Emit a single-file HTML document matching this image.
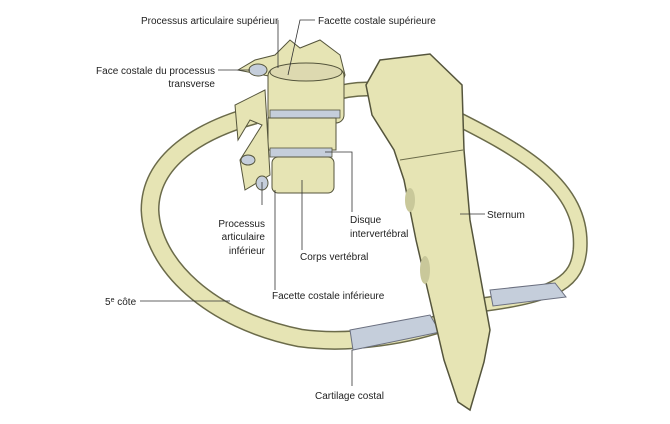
<!DOCTYPE html>
<html><head><meta charset="utf-8"><style>
body{margin:0;background:#fff;}
svg{display:block;font-family:"Liberation Sans",sans-serif;font-size:10px;}
</style></head><body>
<svg width="670" height="424" viewBox="0 0 670 424">
<!-- right rib (behind) -->
<path d="M330 95 C360 85 400 85 450 115 C520 150 585 185 580 250 C577 280 560 295 480 305" fill="none" stroke="#6b6b4a" stroke-width="15"/>
<path d="M330 95 C360 85 400 85 450 115 C520 150 585 185 580 250 C577 280 560 295 480 305" fill="none" stroke="#e6e4b4" stroke-width="12"/>
<path d="M490 290 L555 283 L566 297 L493 306 Z" fill="#c5cedb" stroke="#6b7080" stroke-width="1"/>
<!-- left rib -->
<path d="M255 115 C200 130 150 160 150 210 C152 265 210 320 300 338 C350 345 410 335 450 320" fill="none" stroke="#6b6b4a" stroke-width="19"/>
<path d="M255 115 C200 130 150 160 150 210 C152 265 210 320 300 338 C350 345 410 335 450 320" fill="none" stroke="#e6e4b4" stroke-width="16"/>
<path d="M350 330 L430 315 L440 332 L353 350 Z" fill="#c5cedb" stroke="#6b7080" stroke-width="1"/>
<!-- sternum -->
<path d="M366 85 L380 60 L430 54 L462 85 L464 150 L470 220 L490 330 L484 362 L470 410 L458 402 L444 360 L430 300 L416 240 L404 180 L394 150 L372 115 Z" fill="#e6e4b4" stroke="#55553c" stroke-width="1.5"/>
<path d="M400 160 L463 150" stroke="#6b6b4a" stroke-width="1"/>
<ellipse cx="425" cy="270" rx="5" ry="14" fill="#c9c89a"/>
<ellipse cx="410" cy="200" rx="5" ry="12" fill="#c9c89a"/>
<!-- vertebrae -->
<path d="M238 70 L255 60 L275 55 L290 40 L300 48 L320 40 L340 55 L345 75 L340 90 Z" fill="#e6e4b4" stroke="#55553c"/>
<rect x="268" y="68" width="76" height="55" rx="8" fill="#e6e4b4" stroke="#55553c"/>
<ellipse cx="306" cy="72" rx="36" ry="9" fill="#ddd9b0" stroke="#55553c"/>
<rect x="270" y="110" width="70" height="8" fill="#c5cedb" stroke="#55553c" stroke-width="0.8"/>
<rect x="268" y="118" width="68" height="32" fill="#e6e4b4" stroke="#55553c"/>
<rect x="270" y="148" width="62" height="9" fill="#c5cedb" stroke="#55553c" stroke-width="0.8"/>
<rect x="272" y="157" width="62" height="36" rx="6" fill="#e6e4b4" stroke="#55553c"/>
<path d="M265 90 L235 105 L238 140 L250 120 L262 125 L240 160 L245 190 L270 175 Z" fill="#e6e4b4" stroke="#55553c"/>
<ellipse cx="258" cy="70" rx="9" ry="6" fill="#c5cedb" stroke="#55553c"/>
<ellipse cx="248" cy="160" rx="7" ry="5" fill="#c5cedb" stroke="#55553c"/>
<ellipse cx="262" cy="183" rx="6" ry="7" fill="#c5cedb" stroke="#55553c"/>
<!-- leader lines -->
<g stroke="#333" stroke-width="0.8" fill="none">
<path d="M278 20 L278 68"/>
<path d="M315 20 L300 20 L288 75"/>
<path d="M218 70 L250 70"/>
<path d="M262 182 L262 205"/>
<path d="M275 190 L275 290"/>
<path d="M302 180 L302 250"/>
<path d="M325 152 L352 152 L352 212"/>
<path d="M460 214 L485 214"/>
<path d="M140 301 L230 301"/>
<path d="M352 350 L352 386"/>
</g>
<g fill="#222">
<text x="141" y="24">Processus articulaire supérieur</text>
<text x="318" y="24">Facette costale supérieure</text>
<text x="215" y="74" text-anchor="end">Face costale du processus</text>
<text x="215" y="87" text-anchor="end">transverse</text>
<text x="265" y="227" text-anchor="end">Processus</text>
<text x="265" y="240" text-anchor="end">articulaire</text>
<text x="265" y="254" text-anchor="end">inférieur</text>
<text x="350" y="223">Disque</text>
<text x="350" y="237">intervertébral</text>
<text x="487" y="218">Sternum</text>
<text x="300" y="260">Corps vertébral</text>
<text x="272" y="299">Facette costale inférieure</text>
<text x="105" y="305">5<tspan font-size="7" dy="-3">e</tspan><tspan dy="3"> côte</tspan></text>
<text x="315" y="399">Cartilage costal</text>
</g>
</svg>
</body></html>
